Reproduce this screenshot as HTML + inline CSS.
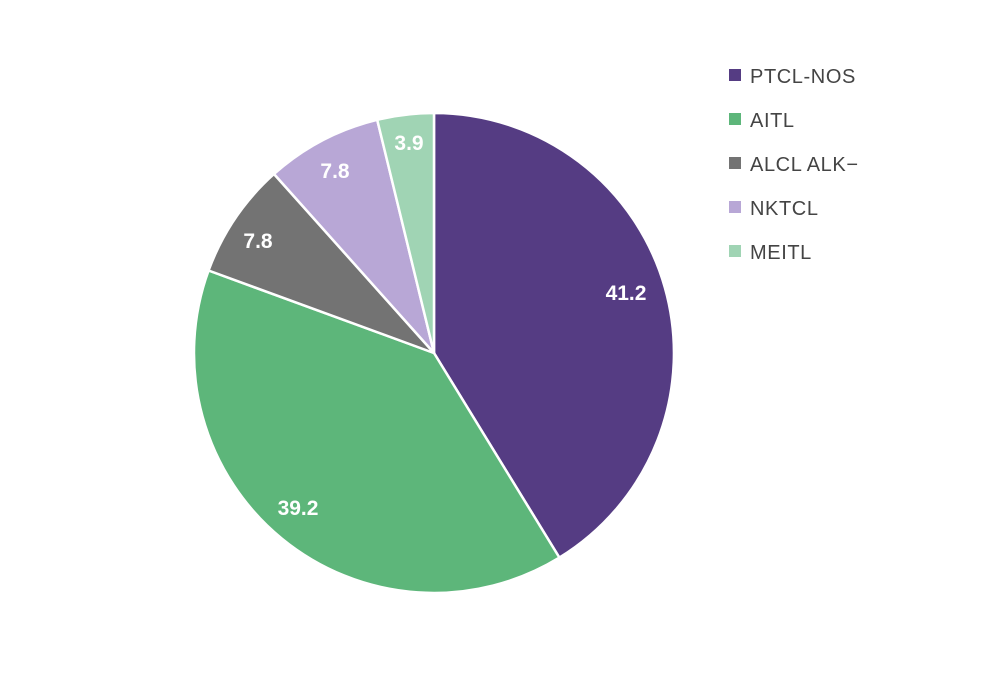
<!DOCTYPE html>
<html><head><meta charset="utf-8"><style>
html,body{margin:0;padding:0;background:#fff;}
svg{display:block;}
</style></head><body>
<svg width="1000" height="692" viewBox="0 0 1000 692" xmlns="http://www.w3.org/2000/svg" font-family="Liberation Sans, sans-serif">
<g stroke="#fff" stroke-width="2.5" stroke-linejoin="round">
<path d="M434,353 L434,113 A240,240 0 0,1 559.4,557.6 Z" fill="#553c83"/>
<path d="M434,353 L559.4,557.6 A240,240 0 0,1 208.6,270.5 Z" fill="#5db67a"/>
<path d="M434,353 L208.6,270.5 A240,240 0 0,1 274,174 Z" fill="#737373"/>
<path d="M434,353 L274,174 A240,240 0 0,1 377.2,119.8 Z" fill="#b8a7d6"/>
<path d="M434,353 L377.2,119.8 A240,240 0 0,1 434,113 Z" fill="#a0d4b4"/>
</g>
<g fill="#fff" font-weight="bold" font-size="21" text-anchor="middle">
<text x="626" y="300">41.2</text>
<text x="298" y="515">39.2</text>
<text x="258" y="248">7.8</text>
<text x="335" y="178">7.8</text>
<text x="409" y="150">3.9</text>
</g>
<g font-size="20" fill="#444" letter-spacing="0.6">
<rect x="729" y="69" width="12" height="12" fill="#553c83"/><text x="750" y="83">PTCL-NOS</text>
<rect x="729" y="113" width="12" height="12" fill="#5db67a"/><text x="750" y="127">AITL</text>
<rect x="729" y="157" width="12" height="12" fill="#737373"/><text x="750" y="171">ALCL ALK−</text>
<rect x="729" y="201" width="12" height="12" fill="#b8a7d6"/><text x="750" y="215">NKTCL</text>
<rect x="729" y="245" width="12" height="12" fill="#a0d4b4"/><text x="750" y="259">MEITL</text>
</g>
</svg>
</body></html>
